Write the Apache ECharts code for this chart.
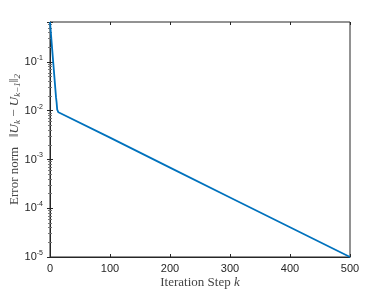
<!DOCTYPE html>
<html>
<head>
<meta charset="UTF-8">
<title>Error norm</title>
<script src="https://cdn.jsdelivr.net/npm/echarts@6/dist/echarts.min.js"></script>
<style>
  html, body { margin: 0; padding: 0; background: #fff; }
  #chart { width: 388px; height: 291px; }
</style>
</head>
<body>
<div id="chart"></div>
<script>
// values
var steps = [0, 10, 11, 12, 13, 14, 100, 200, 300, 400, 500];
var errNorm = [0.66, 0.019, 0.0148, 0.0105, 0.0096, 0.0093, 0.0028, 0.00068, 0.000166, 0.0000407, 0.00001];
var xTicks = [0, 100, 200, 300, 400, 500];
var yMin = 1e-5, yMax = 0.66;

var axisColor = '#262626';
var sansFont = 'Liberation Sans';
var serifFont = 'Liberation Serif';

function powLabel(v) {
  var l = Math.log(v) / Math.LN10;
  var e = Math.round(l);
  if (Math.abs(l - e) > 1e-6) return '';
  return '10{s|' + e + '}';
}

var chart = echarts.init(document.getElementById('chart'));
var option = {
  animation: false,
  grid: {
    left: 50, right: 38, top: 22, bottom: 34,
    containLabel: false, outerBoundsMode: 'none',
    show: true, borderColor: axisColor, borderWidth: 1
  },
  xAxis: [{
    type: 'value', min: xTicks[0], max: xTicks[xTicks.length - 1], interval: 100,
    axisLine: { lineStyle: { color: axisColor } },
    axisTick: { inside: true, length: 3, lineStyle: { color: axisColor } },
    axisLabel: { color: axisColor, fontFamily: sansFont, fontSize: 11, margin: 6 },
    splitLine: { show: false },
    name: 'Iteration Step {i|k}',
    nameLocation: 'middle', nameGap: 19, nameMoveOverlap: false,
    nameTextStyle: {
      color: '#444', fontFamily: serifFont, fontSize: 13,
      rich: { i: { fontFamily: serifFont, fontStyle: 'italic', fontSize: 13, color: '#444' } }
    }
  }, {
    type: 'value', position: 'top', min: 0, max: 500, interval: 100,
    axisLine: { show: false },
    axisTick: { inside: true, length: 3, lineStyle: { color: axisColor } },
    axisLabel: { show: false }, splitLine: { show: false }
  }],
  yAxis: [{
    type: 'log', min: yMin, max: yMax, logBase: 10,
    axisLine: { show: true, lineStyle: { color: axisColor } },
    axisTick: { inside: true, length: 3, lineStyle: { color: axisColor } },
    minorTick: { show: true, splitNumber: 9, length: 2, lineStyle: { color: '#777' } },
    axisLabel: {
      color: axisColor, fontFamily: sansFont, fontSize: 11, margin: 7,
      formatter: powLabel,
      rich: { s: { fontSize: 7, fontFamily: sansFont, color: axisColor, padding: [0, 0, 8, 0] } }
    },
    splitLine: { show: false },
    name: 'Error norm   \u2016{i|U}{sub|k} \u2212 {i|U}{sub|k\u22121}\u2016{sub|2}',
    nameLocation: 'middle', nameGap: 28, nameMoveOverlap: false,
    nameTextStyle: {
      color: '#444', fontFamily: serifFont, fontSize: 13,
      rich: {
        i: { fontFamily: serifFont, fontStyle: 'italic', fontSize: 13, color: '#444' },
        sub: { fontFamily: serifFont, fontStyle: 'italic', fontSize: 9, color: '#444', padding: [6, 0, 0, 0] }
      }
    }
  }, {
    type: 'log', position: 'right', min: yMin, max: yMax, logBase: 10,
    axisLine: { show: false },
    axisTick: { inside: true, length: 3, lineStyle: { color: axisColor } },
    minorTick: { show: true, splitNumber: 9, length: 2, lineStyle: { color: '#777' } },
    axisLabel: { show: false }, splitLine: { show: false }
  }],
  series: [{
    type: 'line',
    data: steps.map(function (k, i) { return [k, errNorm[i]]; }),
    showSymbol: false,
    lineStyle: { color: '#0072BD', width: 1.8 },
    clip: true
  }]
};
chart.setOption(option);
</script>
</body>
</html>
